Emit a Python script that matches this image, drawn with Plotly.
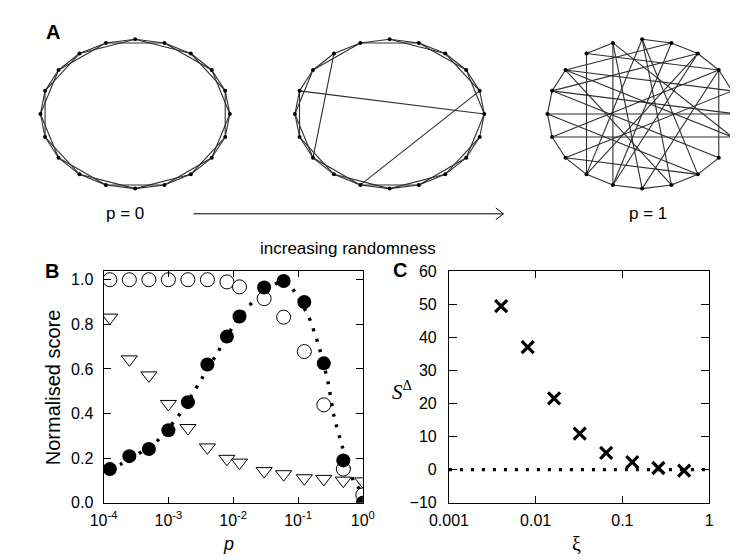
import numpy as np
import plotly.graph_objects as go

# ---------------- data ----------------
# Panel B
p_vals = [1.25e-4, 2.5e-4, 5e-4, 1e-3, 2e-3, 4e-3, 8e-3, 0.0125, 0.03, 0.06, 0.125, 0.25, 0.5, 1.0]
score_filled = [0.151, 0.209, 0.241, 0.325, 0.451, 0.620, 0.745, 0.835, 0.965, 0.994, 0.90, 0.625, 0.19, 0.0]
score_open = [1.0, 1.0, 1.0, 1.0, 1.0, 1.0, 0.99, 0.968, 0.915, 0.832, 0.678, 0.439, 0.151, 0.035]
score_tri = [0.83, 0.643, 0.571, 0.443, 0.335, 0.248, 0.197, 0.18, 0.142, 0.128, 0.11, 0.107, 0.099, 0.096]
p_fit = [1.25e-4, 1.82e-4, 6.3e-4, 1.40e-3, 2.61e-3, 5.77e-3, 0.01076, 0.01795, 0.0444, 0.06,
         0.0828, 0.1455, 0.2046, 0.2877, 0.3606, 0.4786, 0.7295, 0.893, 1.0]
score_fit = [0.15, 0.172, 0.27, 0.386, 0.509, 0.675, 0.806, 0.886, 0.98, 0.995,
             0.958, 0.835, 0.712, 0.545, 0.386, 0.255, 0.093, 0.06, 0.02]
b_tickvals = [1e-4, 1e-3, 1e-2, 1e-1, 1]
b_ticktext = ["10<sup>-4</sup>", "10<sup>-3</sup>", "10<sup>-2</sup>", "10<sup>-1</sup>", "10<sup>0</sup>"]
b_ytick = [0, 0.2, 0.4, 0.6, 0.8, 1.0]

# Panel C
xi_vals = [0.0040, 0.0081, 0.0163, 0.0322, 0.065, 0.13, 0.26, 0.515]
s_delta = [49.4, 37.0, 21.5, 10.9, 5.1, 2.3, 0.5, -0.3]
baseline_xi = [0.001, 1.0]
baseline_s = [0, 0]
c_tickvals = [0.001, 0.01, 0.1, 1]
c_ticktext = ["0.001", "0.01", "0.1", "1"]
c_ytick = [-10, 0, 10, 20, 30, 40, 50, 60]

# Panel A networks
n_nodes = 20
lattice_reach = 2  # each node linked to its 2 nearest neighbours on each side
mid_rewired = [((16, 18), (16, 5)), ((18, 0), (18, 13)), ((4, 6), (4, 11))]
random_edges = [(0, 1), (0, 9), (0, 8), (1, 2), (1, 17), (19, 18), (19, 6), (19, 11),
                (18, 12), (18, 3), (17, 16), (17, 9), (17, 4), (16, 2), (16, 15), (16, 7),
                (15, 5), (15, 14), (15, 8), (14, 6), (14, 3), (14, 13), (13, 4), (13, 12),
                (13, 8), (12, 11), (12, 2), (11, 10), (11, 1), (10, 9), (10, 19), (10, 3),
                (9, 8), (8, 7), (7, 3), (6, 5), (6, 17), (5, 4), (4, 3), (2, 3), (2, 11),
                (5, 16), (0, 12)]

# ---------------- layout constants ----------------
W, H = 738, 560
FONT = "Liberation Sans, Arial, Helvetica, sans-serif"
SERIF = "Liberation Serif, Times New Roman, serif"
net_cx = [112, 378, 642]
net_cy, net_rx, net_ry = 101, 99, 77

fig = go.Figure()

# --- networks (pixel axes x3/y3) ---
def node_xy(cx):
    ang = np.deg2rad(90 - 18 * np.arange(n_nodes))
    return cx + net_rx * np.cos(ang), net_cy - net_ry * np.sin(ang)

lattice = [(i, (i + j) % n_nodes) for i in range(n_nodes) for j in range(1, lattice_reach + 1)]
mid_edges = list(lattice)
for old, new in mid_rewired:
    mid_edges.remove(old)
    mid_edges.append(new)

for cx, edges in zip(net_cx, [lattice, mid_edges, random_edges]):
    nx, ny = node_xy(cx)
    ex, ey = [], []
    for a, b in edges:
        ex += [nx[a], nx[b], None]
        ey += [ny[a], ny[b], None]
    fig.add_trace(go.Scatter(x=ex, y=ey, mode="lines", xaxis="x3", yaxis="y3",
                             line=dict(color="#2e2e2e", width=1.1), hoverinfo="skip", showlegend=False))
    fig.add_trace(go.Scatter(x=nx, y=ny, mode="markers", xaxis="x3", yaxis="y3",
                             marker=dict(color="black", size=4), hoverinfo="skip", showlegend=False))

# arrow
ax0, ax1, ay = 173, 497, 204
fig.add_trace(go.Scatter(x=[ax0, ax1, None, ax1 - 8, ax1, ax1 - 8], y=[ay, ay, None, ay - 6, ay, ay + 6],
                         mode="lines", xaxis="x3", yaxis="y3", line=dict(color="black", width=1),
                         hoverinfo="skip", showlegend=False))

# --- panel B ---
fig.add_trace(go.Scatter(x=p_fit, y=score_fit, mode="lines", xaxis="x", yaxis="y",
                         line=dict(color="black", width=3.4, dash="3px,8px", shape="spline", smoothing=0.6),
                         showlegend=False))
fig.add_trace(go.Scatter(x=p_vals, y=score_tri, mode="markers", xaxis="x", yaxis="y",
                         marker=dict(symbol="triangle-down", size=14, color="white",
                                     line=dict(color="black", width=1)), showlegend=False))
fig.add_trace(go.Scatter(x=p_vals, y=score_open, mode="markers", xaxis="x", yaxis="y",
                         marker=dict(symbol="circle", size=14, color="white",
                                     line=dict(color="black", width=1)), showlegend=False))
fig.add_trace(go.Scatter(x=p_vals, y=score_filled, mode="markers", xaxis="x", yaxis="y",
                         marker=dict(symbol="circle", size=14, color="black"), showlegend=False))

# --- panel C ---
fig.add_trace(go.Scatter(x=baseline_xi, y=baseline_s, mode="lines", xaxis="x2", yaxis="y2",
                         line=dict(color="black", width=3.4, dash="3px,8px"), showlegend=False))
fig.add_trace(go.Scatter(x=xi_vals, y=s_delta, mode="markers", xaxis="x2", yaxis="y2",
                         marker=dict(symbol="x-thin", size=12, color="black",
                                     line=dict(color="black", width=3.2)), showlegend=False))

# domains
def dx(a, b):
    return [a / W, b / W]

def dy(top, bottom):
    return [(H - bottom) / H, (H - top) / H]

axis_common = dict(showline=True, linecolor="black", linewidth=1, mirror="ticks", ticks="inside",
                   showgrid=False, zeroline=False, tickcolor="black",
                   tickfont=dict(family=FONT, size=16, color="black"))

fig.update_layout(
    width=W, height=H, margin=dict(l=0, r=0, t=0, b=0),
    paper_bgcolor="white", plot_bgcolor="rgba(0,0,0,0)",
    font=dict(family=FONT, color="black"),
    xaxis=dict(domain=dx(79, 350), type="log", range=[-4, 0], tickvals=b_tickvals, ticktext=b_ticktext,
               ticklen=6, ticklabelstandoff=3, anchor="y", **axis_common),
    yaxis=dict(domain=dy(263, 502), range=[0, 1.039], tickvals=b_ytick, tickformat=".1f",
               ticklen=7, ticklabelstandoff=6, anchor="x", **axis_common),
    xaxis2=dict(domain=dx(440, 712), type="log", range=[-3, 0], tickvals=c_tickvals, ticktext=c_ticktext,
                ticklen=7, ticklabelstandoff=3, anchor="y2", **axis_common),
    yaxis2=dict(domain=dy(263, 502), range=[-10, 60], tickvals=c_ytick,
                ticklen=8, ticklabelstandoff=8, anchor="x2", **axis_common),
    xaxis3=dict(domain=[0, 1], range=[0, W], visible=False, fixedrange=True, anchor="y3"),
    yaxis3=dict(domain=[0, 1], range=[H, 0], visible=False, fixedrange=True, anchor="x3"),
)

def txt(x, y, s, size, family=FONT, bold=False, angle=0, italic=False):
    if bold:
        s = "<b>" + s + "</b>"
    if italic:
        s = "<i>" + s + "</i>"
    fig.add_annotation(x=x / W, y=(H - y) / H, xref="paper", yref="paper", text=s, showarrow=False,
                       font=dict(family=family, size=size, color="black"), textangle=angle,
                       xanchor="center", yanchor="middle")

txt(26, 17, "A", 20, bold=True)
txt(25, 263, "B", 20, bold=True)
txt(389, 262, "C", 20, bold=True)
txt(101, 204, "p = 0", 17)
txt(648, 204, "p = 1", 17)
txt(335, 240, "increasing randomness", 17)
txt(27, 383, "Normalised score", 20, angle=-90)
txt(210, 545, "p", 18, italic=True)
txt(391, 386, "<i>S</i><sup>Δ</sup>", 21, family=SERIF)
txt(573, 545, "ξ", 20, family=SERIF)

fig.write_html("out.html")
